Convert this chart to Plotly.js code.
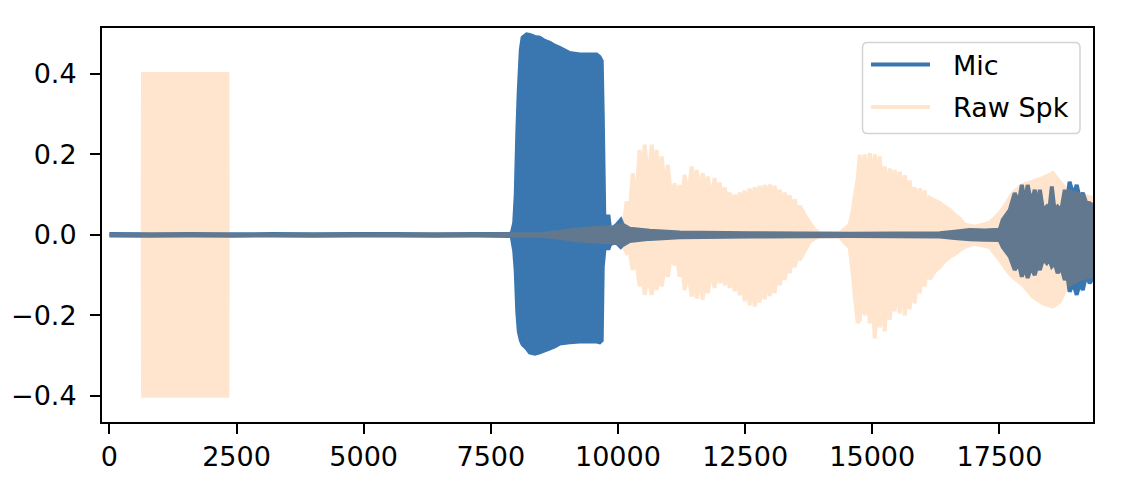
<!DOCTYPE html>
<html><head><meta charset="utf-8">
<script src="https://cdn.plot.ly/plotly-3.0.1.min.js"></script>
<style>html,body{margin:0;padding:0;background:#fff}#chart{width:1124px;height:480px}</style>
</head><body><div id="chart"></div>
<script>
// ---- data (envelopes) ----
const seriesNames = ['Mic', 'Raw Spk'];

const micX  = [0, 800, 1600, 2400, 3200, 4000, 4800, 5600, 6400, 7200, 7910, 7960, 7990, 8020, 8050, 8090, 8125, 8205, 8265, 8365, 8460, 8560, 8660, 8755, 8855, 9050, 9250, 9445, 9580, 9640, 9680, 9700, 9730, 9780, 9810, 9840, 9895, 9975, 10055, 10095, 10230, 10625, 11215, 12590, 14555, 16325, 16620, 16915, 17210, 17505, 17565, 17705, 17800, 17880, 17940, 18000, 18055, 18125, 18195, 18245, 18295, 18360, 18430, 18480, 18530, 18585, 18645, 18715, 18785, 18835, 18880, 18950, 19020, 19080, 19140, 19205, 19275, 19375];
const micUp = [0.002, 0.0015, 0.002, 0.0015, 0.002, 0.0015, 0.002, 0.002, 0.0015, 0.002, 0.003, 0.03, 0.10, 0.25, 0.36, 0.46, 0.49, 0.498, 0.497, 0.492, 0.49, 0.482, 0.477, 0.47, 0.465, 0.452, 0.448, 0.448, 0.448, 0.442, 0.432, 0.30, 0.05, 0.02, 0.05, 0.02, 0.017, 0.025, 0.037, 0.025, 0.015, 0.010, 0.006, 0.004, 0.003, 0.004, 0.008, 0.012, 0.011, 0.013, 0.037, 0.062, 0.104, 0.08, 0.124, 0.08, 0.124, 0.08, 0.112, 0.07, 0.112, 0.06, 0.07, 0.06, 0.12, 0.06, 0.07, 0.06, 0.112, 0.09, 0.132, 0.10, 0.124, 0.09, 0.104, 0.08, 0.079, 0.07];
const micLo = [-0.0015, -0.002, -0.0015, -0.002, -0.0015, -0.002, -0.0015, -0.0015, -0.002, -0.0015, -0.003, -0.04, -0.09, -0.19, -0.24, -0.262, -0.272, -0.282, -0.292, -0.295, -0.292, -0.287, -0.282, -0.277, -0.27, -0.267, -0.265, -0.265, -0.265, -0.267, -0.262, -0.08, -0.04, -0.02, -0.037, -0.025, -0.02, -0.02, -0.03, -0.025, -0.015, -0.010, -0.006, -0.004, -0.003, -0.004, -0.008, -0.011, -0.012, -0.013, -0.03, -0.054, -0.087, -0.07, -0.104, -0.08, -0.107, -0.08, -0.10, -0.075, -0.087, -0.06, -0.07, -0.06, -0.078, -0.07, -0.095, -0.08, -0.112, -0.10, -0.141, -0.12, -0.149, -0.12, -0.137, -0.10, -0.12, -0.10];

const spkX  = [0, 655, 662, 2318, 2326, 8500, 8855, 9150, 9445, 9740, 9935, 10075, 10115,
  10170, 10230, 10290, 10360, 10425, 10475, 10525, 10595, 10665, 10710, 10760, 10810, 10860, 10920, 10980, 11045, 11115, 11165, 11215, 11265, 11310, 11380, 11450, 11500, 11550, 11605, 11665, 11715, 11765, 11835, 11900, 11950, 12000, 12050, 12100, 12150, 12195, 12245, 12295, 12345, 12395, 12445, 12490, 12540, 12590, 12640, 12690, 12740, 12785, 12835, 12885, 12935, 12985, 13035, 13080, 13130, 13180, 13230, 13280, 13330, 13375, 13425, 13475, 13525, 13575, 13670, 13770, 13870, 13965,
  14360, 14460, 14555, 14615, 14655, 14715, 14755, 14800, 14850, 14900, 14950, 15000, 15050, 15095, 15145, 15195, 15245, 15295, 15345, 15390, 15440, 15490, 15540, 15590, 15640, 15685, 15735, 15785, 15835, 15885, 15935, 15980, 16030, 16080, 16130, 16230, 16325, 16425, 16520, 16620, 16720, 16820, 17015,
  17310, 17505, 17645, 17760, 17960, 18155, 18350, 18550, 18685, 18825, 19080, 19375];
const spkUp = [0, 0, 0.4, 0.4, 0, 0.002, 0.007, 0.013, 0.016, 0.018, 0.02, 0.025, 0.028,
  0.083, 0.05, 0.153, 0.08, 0.211, 0.12, 0.224, 0.13, 0.224, 0.13, 0.211, 0.12, 0.195, 0.11, 0.174, 0.09, 0.128, 0.08, 0.124, 0.08, 0.149, 0.09, 0.170, 0.10, 0.161, 0.10, 0.153, 0.10, 0.145, 0.09, 0.141, 0.09, 0.130, 0.08, 0.118, 0.075, 0.105, 0.07, 0.100, 0.07, 0.105, 0.07, 0.110, 0.075, 0.115, 0.08, 0.118, 0.08, 0.122, 0.08, 0.124, 0.085, 0.125, 0.085, 0.122, 0.08, 0.112, 0.075, 0.105, 0.07, 0.098, 0.06, 0.088, 0.05, 0.072, 0.050, 0.030, 0.012, 0.004,
  0.004, 0.015, 0.025, 0.06, 0.095, 0.14, 0.199, 0.12, 0.20, 0.12, 0.203, 0.12, 0.20, 0.12, 0.195, 0.11, 0.17, 0.10, 0.165, 0.10, 0.161, 0.10, 0.157, 0.09, 0.148, 0.09, 0.135, 0.08, 0.118, 0.07, 0.116, 0.07, 0.110, 0.06, 0.092, 0.085, 0.079, 0.070, 0.062, 0.050, 0.040, 0.025, 0.020,
  0.030, 0.054, 0.079, 0.104, 0.124, 0.132, 0.141, 0.153, 0.132, 0.110, 0.100, 0.09];
const spkLo = [0, 0, -0.4, -0.4, 0, -0.002, -0.007, -0.013, -0.016, -0.018, -0.02, -0.025, -0.028,
  -0.045, -0.04, -0.087, -0.06, -0.128, -0.09, -0.149, -0.10, -0.149, -0.10, -0.137, -0.09, -0.128, -0.08, -0.104, -0.05, -0.075, -0.06, -0.104, -0.07, -0.137, -0.09, -0.153, -0.10, -0.158, -0.10, -0.161, -0.10, -0.145, -0.09, -0.132, -0.08, -0.120, -0.08, -0.125, -0.08, -0.132, -0.09, -0.140, -0.09, -0.150, -0.10, -0.165, -0.11, -0.175, -0.115, -0.178, -0.11, -0.168, -0.11, -0.160, -0.10, -0.152, -0.10, -0.145, -0.09, -0.125, -0.08, -0.112, -0.07, -0.095, -0.06, -0.080, -0.05, -0.062, -0.040, -0.017, -0.008, -0.004,
  -0.004, -0.02, -0.03, -0.095, -0.15, -0.219, -0.21, -0.13, -0.20, -0.13, -0.22, -0.14, -0.257, -0.15, -0.23, -0.14, -0.24, -0.13, -0.211, -0.12, -0.19, -0.11, -0.195, -0.11, -0.200, -0.11, -0.185, -0.10, -0.170, -0.09, -0.145, -0.08, -0.128, -0.07, -0.110, -0.090, -0.080, -0.065, -0.055, -0.048, -0.038, -0.030, -0.022,
  -0.030, -0.062, -0.087, -0.104, -0.124, -0.153, -0.170, -0.178, -0.166, -0.128, -0.11, -0.10];

const xTickVals = [0, 2500, 5000, 7500, 10000, 12500, 15000, 17500];
const xTickText = ['0', '2500', '5000', '7500', '10000', '12500', '15000', '17500'];
const yTickVals = [-0.4, -0.2, 0, 0.2, 0.4];
const yTickText = ['\u22120.4', '\u22120.2', '0.0', '0.2', '0.4'];

// ---- styling ----
const micColor = '#3a77b0';
const spkColor = '#ff7f0e';
const spkAlpha = 0.2;
const FONT = 'DejaVu Sans';
const FS = 27;

function envelope(xs, up, lo) {
  return {
    x: xs.concat(xs.slice().reverse()),
    y: up.concat(lo.slice().reverse())
  };
}

const micEnv = envelope(micX, micUp, micLo);
const spkEnv = envelope(spkX, spkUp, spkLo);

const traces = [
  {
    type: 'scatter', mode: 'lines', name: seriesNames[0],
    x: micEnv.x, y: micEnv.y, fill: 'toself', fillcolor: micColor,
    line: {color: micColor, width: 4, simplify: false},
    hoverinfo: 'skip', showlegend: false
  },
  {
    type: 'scatter', mode: 'lines', name: seriesNames[1],
    x: spkEnv.x, y: spkEnv.y, fill: 'toself', fillcolor: spkColor,
    line: {color: spkColor, width: 4, simplify: false},
    opacity: spkAlpha, hoverinfo: 'skip', showlegend: false
  }
];

// manual matplotlib-like legend (paper coords)
const M = {l: 102, r: 31, t: 28, b: 58};
const PW = 1124 - M.l - M.r, PH = 480 - M.t - M.b;
const px = v => (v - M.l) / PW;
const py = v => (480 - M.b - v) / PH;
function roundRect(x0, y0, x1, y1, r) {
  const rx = r / PW, ry = r / PH;
  const a = px(x0), b = px(x1), top = py(y0), bot = py(y1);
  return `M ${a + rx},${top} L ${b - rx},${top} Q ${b},${top} ${b},${top - ry} ` +
         `L ${b},${bot + ry} Q ${b},${bot} ${b - rx},${bot} L ${a + rx},${bot} ` +
         `Q ${a},${bot} ${a},${bot + ry} L ${a},${top - ry} Q ${a},${top} ${a + rx},${top} Z`;
}

const shapes = [
  {type: 'path', xref: 'paper', yref: 'paper', path: roundRect(862.5, 42.5, 1080, 133.5, 5),
   fillcolor: 'rgba(255,255,255,0.8)', line: {color: '#d4d4d4', width: 1.5}, layer: 'above'},
  {type: 'line', xref: 'paper', yref: 'paper', x0: px(871), x1: px(930), y0: py(64.5), y1: py(64.5),
   line: {color: micColor, width: 4}, layer: 'above'},
  {type: 'line', xref: 'paper', yref: 'paper', x0: px(871), x1: px(930), y0: py(107), y1: py(107),
   line: {color: spkColor, width: 4}, opacity: spkAlpha, layer: 'above'}
];
const annotations = [
  {xref: 'paper', yref: 'paper', x: px(951), y: py(65), xanchor: 'left', yanchor: 'middle',
   text: seriesNames[0], showarrow: false, font: {family: FONT, size: FS, color: '#000'}},
  {xref: 'paper', yref: 'paper', x: px(951), y: py(107), xanchor: 'left', yanchor: 'middle',
   text: seriesNames[1], showarrow: false, font: {family: FONT, size: FS, color: '#000'}}
];

const axisCommon = {
  showgrid: false, zeroline: false, showline: true, mirror: true,
  linecolor: '#000', linewidth: 2, ticks: 'outside', ticklen: 10, tickwidth: 2,
  tickcolor: '#000', tickfont: {family: FONT, size: FS, color: '#000'}, tickmode: 'array'
};

const layout = {
  width: 1124, height: 480,
  margin: M,
  paper_bgcolor: '#fff', plot_bgcolor: '#fff',
  showlegend: false,
  font: {family: FONT, size: FS, color: '#000'},
  xaxis: Object.assign({}, axisCommon, {range: [-145, 19340], tickvals: xTickVals, ticktext: xTickText}),
  yaxis: Object.assign({}, axisCommon, {range: [-0.465, 0.514], tickvals: yTickVals, ticktext: yTickText, ticklabelstandoff: 8}),
  shapes: shapes,
  annotations: annotations
};

Plotly.newPlot('chart', traces, layout, {staticPlot: true, displayModeBar: false});
</script>
</body></html>
